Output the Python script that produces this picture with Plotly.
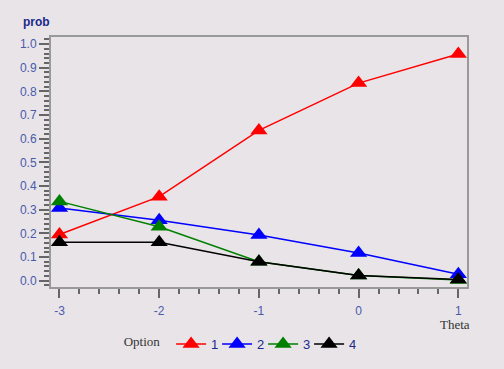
import plotly.graph_objects as go

theta = [-3, -2, -1, 0, 1]
theta_labels = ["-3", "-2", "-1", "0", "1"]
prob_ticks = [0.0, 0.1, 0.2, 0.3, 0.4, 0.5, 0.6, 0.7, 0.8, 0.9, 1.0]
opt1 = [0.195, 0.355, 0.635, 0.835, 0.958]
opt2 = [0.307, 0.255, 0.193, 0.117, 0.027]
opt3 = [0.335, 0.228, 0.080, 0.022, 0.003]
opt4 = [0.162, 0.162, 0.080, 0.022, 0.005]
names = ["1", "2", "3", "4"]
colors = ["#ff0000", "#0000ff", "#008000", "#000000"]

BG = "#e8e4e8"
TICKC = "#4a5aac"

fig = go.Figure()
for vals, nm, c in zip([opt1, opt2, opt3, opt4], names, colors):
    fig.add_trace(go.Scatter(
        x=theta, y=vals, name=nm, mode="lines+markers",
        line=dict(color=c, width=1.5),
        marker=dict(symbol="triangle-up", size=15, color=c),
    ))

axis_common = dict(
    showgrid=False, zeroline=False, showline=True, linecolor="#999999",
    linewidth=2, mirror=True, ticks="outside", tickcolor="#666666",
    tickwidth=2, automargin=False,
    tickfont=dict(family="Liberation Sans, Arial", size=12, color=TICKC),
)
fig.update_xaxes(range=[-3.085, 1.087], tickvals=theta, ticktext=theta_labels, ticklen=9,
                 ticklabelstandoff=3,
                 minor=dict(dtick=0.2, ticklen=5, ticks="outside", tickcolor="#666666", tickwidth=2),
                 **axis_common)
fig.update_yaxes(range=[-0.027, 1.03], tickvals=prob_ticks,
                 tickformat=".1f", ticklen=10,
                 minor=dict(dtick=0.02, ticklen=5, ticks="outside", tickcolor="#666666", tickwidth=2),
                 **axis_common)

fig.update_layout(
    width=504, height=369,
    margin=dict(l=51, r=37, t=37, b=82, autoexpand=False),
    paper_bgcolor=BG, plot_bgcolor=BG,
    showlegend=True,
    legend=dict(
        orientation="h", x=0.17, xanchor="left", y=-0.228, yanchor="middle",
        title=dict(text="Option ", side="left",
                   font=dict(family="Liberation Serif", size=13, color="#333333")),
        font=dict(family="Liberation Sans, Arial", size=13, color="#1a2a8a"),
        bgcolor="rgba(0,0,0,0)", itemwidth=30, entrywidth=1, entrywidthmode="pixels",
    ),
    annotations=[
        dict(text="<b>prob</b>", xref="paper", yref="paper", x=-0.036, y=1.06,
             xanchor="center", yanchor="middle", showarrow=False,
             font=dict(family="Liberation Sans, Arial", size=12, color="#1a2a8a")),
        dict(text="Theta", xref="paper", yref="paper", x=0.972, y=-0.148,
             xanchor="center", yanchor="middle", showarrow=False,
             font=dict(family="Liberation Serif", size=13, color="#333333")),
    ],
)

fig.write_html(
    "out.html",
    config={"displayModeBar": False},
    post_script="document.body.style.margin='0';document.body.style.background='#e8e4e8';",
)
